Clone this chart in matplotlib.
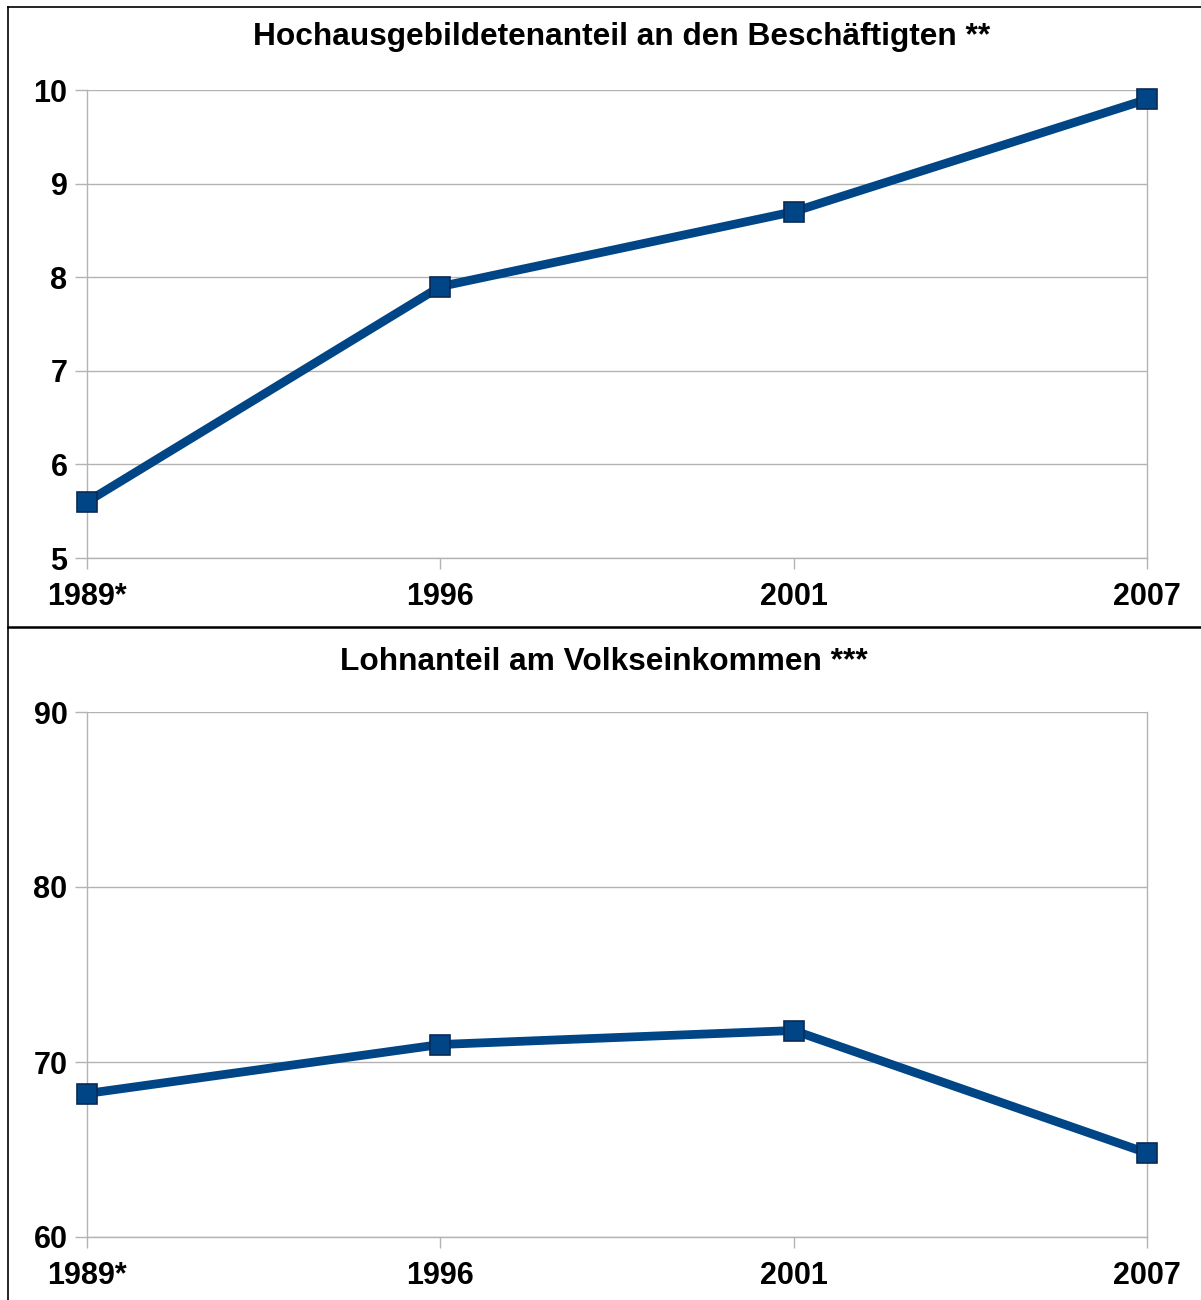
import matplotlib.pyplot as plt
from matplotlib.lines import Line2D

plt.rcParams['font.family'] = ['Liberation Sans', 'DejaVu Sans']
plt.rcParams['font.weight'] = 'bold'

jahre = ["1989*", "1996", "2001", "2007"]
hochausgebildete = [5.6, 7.9, 8.7, 9.9]
lohnanteil = [68.2, 71.0, 71.8, 64.8]

blau = "#004586"
grau = "#b3b3b3"

W, H = 1201, 1300
fig = plt.figure(figsize=(W / 100, H / 100), dpi=100)


def panel(rect, werte, ymin, ymax, yticks, titel, titel_xy):
    ax = fig.add_axes(rect)
    x = range(len(jahre))
    ax.plot(x, werte, color=blau, lw=6.3, marker="s", markersize=14.5,
            markerfacecolor=blau, markeredgecolor="#0a2a55", markeredgewidth=1.2,
            zorder=5, clip_on=False)
    ax.set_xlim(0, len(jahre) - 1)
    ax.set_ylim(ymin, ymax)
    ax.set_xticks(list(x))
    ax.set_xticklabels(jahre)
    ax.set_yticks(yticks)
    ax.grid(axis="y", color=grau, lw=1)
    ax.set_axisbelow(True)
    ax.spines["top"].set_visible(False)
    for s in ["left", "right", "bottom"]:
        ax.spines[s].set_color(grau)
        ax.spines[s].set_linewidth(1)
    ax.tick_params(axis="x", length=8, width=1, color=grau, pad=9,
                   labelsize=22)
    ax.tick_params(axis="y", length=9, width=1, color=grau, pad=5,
                   labelsize=22)
    for lab in ax.get_xticklabels() + ax.get_yticklabels():
        lab.set_fontweight("bold")
    fig.text(titel_xy[0] / W, 1 - titel_xy[1] / H, titel, ha="center",
             va="center", fontsize=22.8, fontweight="bold")
    return ax


panel([87 / W, 1 - 558 / H, 1060 / W, 468 / H], hochausgebildete, 5, 10,
      [5, 6, 7, 8, 9, 10], "Hochausgebildetenanteil an den Beschäftigten **",
      (622, 37))
panel([87 / W, 1 - 1237 / H, 1060 / W, 525 / H], lohnanteil, 60, 90,
      [60, 70, 80, 90], "Lohnanteil am Volkseinkommen ***", (604, 662))

# Rahmen und Trennlinie
fig.add_artist(Line2D([8 / W, 8 / W], [0, 1 - 7 / H], color="black", lw=1.2))
fig.add_artist(Line2D([8 / W, 1], [1 - 7 / H, 1 - 7 / H], color="black", lw=1.2))
fig.add_artist(Line2D([8 / W, 1], [1 - 627 / H, 1 - 627 / H], color="black", lw=1.8))

fig.savefig("out.png", dpi=100)
